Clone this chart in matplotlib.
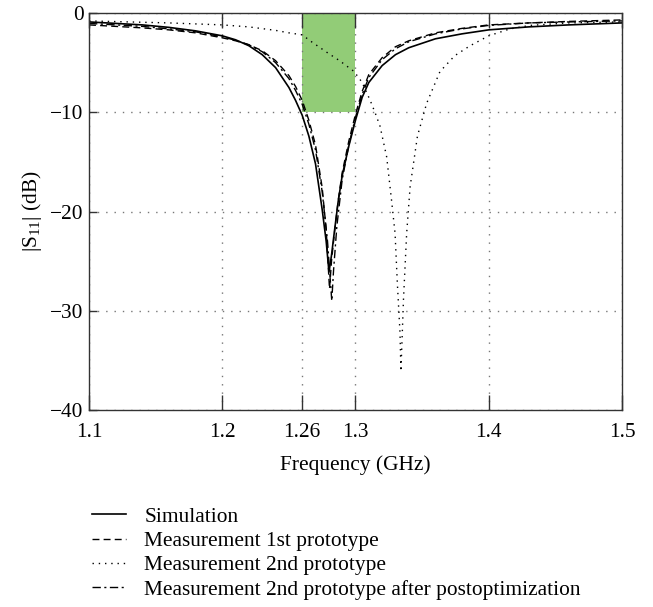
"""S11 vs frequency: simulation and three measured prototypes."""

import matplotlib
matplotlib.use("Agg")
import matplotlib.pyplot as plt

plt.rcParams.update({
    "font.family": "Liberation Serif", "font.size": 15.4,
    "mathtext.default": "regular",
    "axes.edgecolor": "#333333", "axes.linewidth": 1.0,
})

# data (GHz, dB)
SIM_F = [1.10, 1.12, 1.14, 1.16, 1.18, 1.20, 1.21, 1.22, 1.23, 1.24, 1.25,
         1.255, 1.26, 1.265, 1.27, 1.275, 1.278, 1.2801, 1.282, 1.284, 1.287,
         1.29, 1.295, 1.30, 1.305, 1.31, 1.32, 1.33, 1.34, 1.36, 1.38, 1.40,
         1.43, 1.46, 1.50]
SIM_DB = [-0.9, -1.05, -1.2, -1.45, -1.8, -2.3, -2.7, -3.3, -4.2, -5.5, -7.5,
          -8.8, -10.3, -12.4, -15.2, -19.8, -23.0, -26.1, -24.4, -22.2, -19.0,
          -16.4, -13.4, -10.8, -8.5, -7.0, -5.3, -4.2, -3.5, -2.6, -2.1, -1.7,
          -1.4, -1.2, -1.0]

M1_F = [1.10, 1.12, 1.14, 1.16, 1.18, 1.20, 1.21, 1.22, 1.23, 1.24, 1.25,
        1.255, 1.26, 1.265, 1.27, 1.275, 1.278, 1.2805, 1.282, 1.284, 1.287,
        1.29, 1.295, 1.30, 1.305, 1.31, 1.32, 1.33, 1.34, 1.36, 1.38, 1.40,
        1.43, 1.46, 1.50]
M1_DB = [-1.2, -1.35, -1.5, -1.7, -2.0, -2.5, -2.8, -3.2, -3.8, -4.8, -6.3,
         -7.4, -8.8, -10.8, -13.3, -17.6, -21.8, -27.8, -25.0, -22.4, -18.9,
         -16.1, -12.9, -10.2, -7.9, -6.2, -4.5, -3.4, -2.8, -2.0, -1.55, -1.2,
         -1.0, -0.85, -0.7]

M2_F = [1.10, 1.13, 1.16, 1.19, 1.20, 1.22, 1.24, 1.25, 1.26, 1.267, 1.28,
        1.288, 1.299, 1.305, 1.311, 1.3146, 1.3184, 1.3234, 1.327, 1.3297,
        1.3314, 1.3334, 1.3341, 1.336, 1.3384, 1.341, 1.3465, 1.3534, 1.3634,
        1.3745, 1.386, 1.40, 1.416, 1.431, 1.46, 1.50]
M2_DB = [-0.8, -0.9, -1.0, -1.15, -1.2, -1.4, -1.75, -2.0, -2.2, -2.9, -4.1,
         -4.8, -5.9, -7.0, -8.8, -10.0, -11.4, -14.5, -18.8, -22.2,
         -27.2, -32.2, -36.1, -28.9, -22.2, -17.5, -12.4, -9.1, -5.9,
         -4.3, -3.3, -2.3, -1.6, -1.25, -1.0, -0.9]

M2P_F = [1.10, 1.12, 1.14, 1.16, 1.18, 1.20, 1.21, 1.22, 1.23, 1.24, 1.25,
         1.255, 1.26, 1.265, 1.27, 1.275, 1.279, 1.2822, 1.2835, 1.286, 1.29,
         1.295, 1.30, 1.305, 1.31, 1.32, 1.33, 1.34, 1.36, 1.38, 1.40, 1.43,
         1.46, 1.50]
M2P_DB = [-1.05, -1.2, -1.35, -1.6, -1.9, -2.4, -2.75, -3.2, -3.9, -5.0, -6.6,
          -7.8, -9.2, -11.2, -13.8, -18.0, -23.0, -29.0, -26.0, -21.5, -16.8,
          -13.3, -10.5, -8.2, -6.5, -4.7, -3.6, -2.9, -2.1, -1.6, -1.25, -1.0,
          -0.9, -0.8]

LABELS = ["Simulation", "Measurement 1st prototype",
          "Measurement 2nd prototype",
          "Measurement 2nd prototype after postoptimization"]

BAND = [1.26, 1.30]   # target band (GHz)
BAND_LEVEL = -10      # dB
X_TICKS = [1.1, 1.2, 1.26, 1.3, 1.4, 1.5]
Y_TICKS = [0, -10, -20, -30, -40]

fig = plt.figure(figsize=(6.53, 6.07), dpi=100)
ax = fig.add_axes([0.1363, 0.3245, 0.8162, 0.6541])

ax.fill_between(BAND, BAND_LEVEL, 0, color="#92cc77", lw=0, zorder=0.2)

ax.plot(SIM_F, SIM_DB, "-", color="black", lw=1.2, label=LABELS[0])
ax.plot(M1_F, M1_DB, color="black", lw=1.0, ls=(0, (5, 3)), label=LABELS[1])
ax.plot(M2_F, M2_DB, color="black", lw=1.0, ls=(0, (1, 3.5)), label=LABELS[2])
ax.plot(M2P_F, M2P_DB, color="black", lw=1.0, ls=(0, (6, 2.5, 1.5, 2.5)),
        label=LABELS[3])

ax.set_xlim(1.1, 1.5); ax.set_ylim(-40, 0)
ax.set_xticks(X_TICKS); ax.set_xticklabels([f"{t:g}" for t in X_TICKS])
ax.set_yticks(Y_TICKS)
ax.set_axisbelow("line")
ax.grid(True, color="#777777", lw=1.0, ls=(0, (1, 5)))
ax.tick_params(axis="x", direction="in", length=11, top=True, width=1.0,
               color="#333333", pad=9)
ax.tick_params(axis="y", direction="in", length=6, right=False, width=1.0,
               color="#333333", pad=4)

ax.set_xlabel("Frequency (GHz)", labelpad=10)
ax.set_ylabel("|S$_{11}$| (dB)", labelpad=4)

fig.legend(loc="upper left", bbox_to_anchor=(0.141, 0.165), frameon=False,
           handlelength=1.6, handletextpad=0.85, labelspacing=0.2,
           borderpad=0, borderaxespad=0)

fig.savefig("out.png", facecolor="white")
